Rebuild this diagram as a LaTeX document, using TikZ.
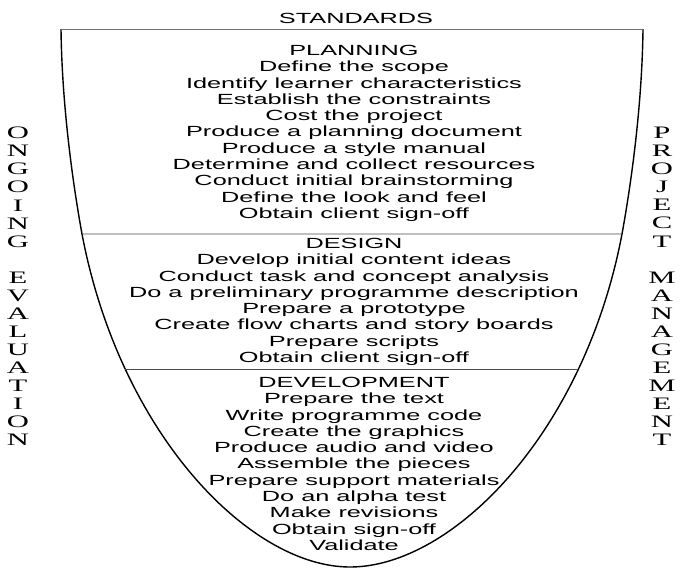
\documentclass[tikz,border=0pt]{standalone}
\usepackage{fontspec}
\newfontfamily\phasefont[FakeStretch=1.72]{Liberation Sans}
\newfontfamily\sidefont[FakeStretch=1.75]{Liberation Serif}
\usetikzlibrary{intersections}

\begin{document}
\begin{tikzpicture}[x=1pt, y=-1pt,
% Outline styles
 outline/.style={draw, line width=1.4pt, black},
 rim/.style={draw, line width=0.8pt, black!55},
 divider/.style={draw, line width=0.7pt, black!70},
% Text styles
 phase/.style={inner sep=0pt, anchor=north, align=center,
 font=\phasefont\fontsize{14.7}{16.3}\selectfont},
 side/.style={inner sep=0pt, anchor=north, align=center,
 font=\sidefont\fontsize{17.5}{18.06}\selectfont}
]
\useasboundingbox (0,0) rectangle (684,568);

% the funnel
\coordinate (topleft) at (61,29);
\coordinate (topright) at (643,29);
\draw[outline, name path=funnel] (topleft)
 .. controls (62,110) and (74,190) .. (82,234)
 .. controls (120,434) and (250,567) .. (350,567)
 .. controls (452,567) and (584,434) .. (622,234)
 .. controls (630,190) and (642,110) .. (topright);
\draw[rim] (topleft) -- (topright);

% dividers between the phases
\path[name path=cutA] (0,234) -- (684,234);
\path[name path=cutB] (0,369) -- (684,369);
\path[name intersections={of=funnel and cutA, name=a}];
\path[name intersections={of=funnel and cutB, name=b}];
\draw[divider] (a-1) -- (a-2);
\draw[divider] (b-1) -- (b-2);

\node[phase] (standards) at (356,13) {STANDARDS};

\node[phase] (planning) at (354,45) {PLANNING\\
 Define the scope\\
 Identify learner characteristics\\
 Establish the constraints\\
 Cost the project\\
 Produce a planning document\\
 Produce a style manual\\
 Determine and collect resources\\
 Conduct initial brainstorming\\
 Define the look and feel\\
 Obtain client sign-off};

\node[phase] (design) at (354,238) {DESIGN\\
 Develop initial content ideas\\
 Conduct task and concept analysis\\
 Do a preliminary programme description\\
 Prepare a prototype\\
 Create flow charts and story boards\\
 Prepare scripts\\
 Obtain client sign-off};

\node[phase] (development) at (354,377) {DEVELOPMENT\\
 Prepare the text\\
 Write programme code\\
 Create the graphics\\
 Produce audio and video\\
 Assemble the pieces\\
 Prepare support materials\\
 Do an alpha test\\
 Make revisions\\
 Obtain sign-off\\
 Validate};

% side labels
\node[side] (evaluation) at (18,127) {O\\N\\G\\O\\I\\N\\G\\[18.06pt]
 E\\V\\A\\L\\U\\A\\T\\I\\O\\N};
\node[side] (management) at (662,127) {P\\R\\O\\J\\E\\C\\T\\[18.06pt]
 M\\A\\N\\A\\G\\E\\M\\E\\N\\T};

\end{tikzpicture}
\end{document}
